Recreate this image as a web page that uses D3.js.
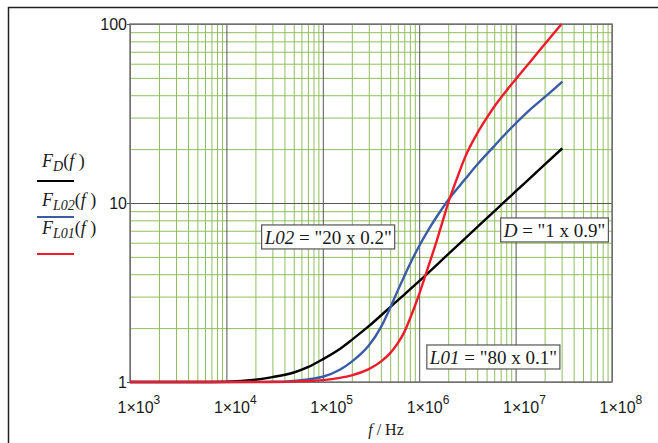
<!DOCTYPE html>
<html>
<head>
<meta charset="utf-8">
<title>Frequency factor F(f)</title>
<style>
  body { margin: 0; background: #fff; }
  svg { display: block; font-family: "Liberation Serif", "Times New Roman", serif; }
  .lbl { font-size: 16px; fill: #1a1a1a; }
  .note { font-size: 19px; fill: #1a1a1a; }
  .leg { font-size: 18px; fill: #1a1a1a; }
</style>
</head>
<body>
<div id="chart"></div>
<script src="https://d3js.org/d3.v7.min.js"></script>
<script>
// values (f in Hz, F dimensionless)
const freqD = [1e3, 5e3, 1e4, 2e4, 3e4, 5e4, 7e4, 1e5, 1.5e5, 2e5, 3e5, 5e5, 7e5, 1e6, 2e6, 3e6, 5e6, 1e7, 2e7, 3.05e7];
const valD  = [1, 1, 1.004, 1.03, 1.065, 1.13, 1.21, 1.34, 1.53, 1.72, 2.05, 2.62, 3.08, 3.66, 5.18, 6.35, 8.2, 11.6, 16.4, 20.2];

const freqL02 = [1e3, 1e4, 3e4, 5e4, 7e4, 1e5, 1.5e5, 2e5, 2.5e5, 3e5, 4e5, 5e5, 6e5, 7e5, 8e5, 1e6, 1.25e6, 1.5e6, 2e6, 3e6, 4e6, 6e6, 8e6, 1e7, 1.5e7, 2e7, 3.05e7];
const valL02  = [1, 1, 1.003, 1.015, 1.035, 1.07, 1.17, 1.3, 1.44, 1.6, 2.02, 2.6, 3.25, 3.9, 4.55, 5.75, 7.1, 8.3, 10.4, 13.6, 16.4, 20.8, 24.6, 27.8, 34.2, 39, 47.6];

const freqL01 = [1e3, 1e4, 3e4, 5e4, 7e4, 1e5, 1.5e5, 2e5, 3e5, 4e5, 5e5, 6e5, 7e5, 8e5, 9e5, 1e6, 1.25e6, 1.5e6, 1.75e6, 2e6, 2.5e6, 3e6, 4e6, 5e6, 6e6, 8e6, 1e7, 1.4e7, 2e7, 3e7];
const valL01  = [1, 1, 1, 1.005, 1.012, 1.025, 1.055, 1.09, 1.18, 1.3, 1.45, 1.65, 1.9, 2.25, 2.65, 3.1, 4.45, 6.0, 7.9, 10, 14, 18.1, 24.5, 29.8, 34.5, 42.3, 49, 61, 77, 100];

const xDecades = [1e3, 1e4, 1e5, 1e6, 1e7, 1e8];
const xExponents = ["3", "4", "5", "6", "7", "8"];
const yTicks = [1, 10, 100];

// notes drawn inside the plot, anchored at their top-left corner in data space
const notes = [
  { name: "L02", value: "\"20 x 0.2\"", f: 2.32e4, F: 7.54 },
  { name: "D",   value: "\"1 x 0.9\"",  f: 7.0e6,  F: 8.25 },
  { name: "L01", value: "\"80 x 0.1\"", f: 1.2e6,  F: 1.61 }
];

const series = [
  { sub: "D",   freq: freqD,   val: valD,   color: "#000000" },
  { sub: "L02", freq: freqL02, val: valL02, color: "#3a5ca6" },
  { sub: "L01", freq: freqL01, val: valL01, color: "#ee1c2a" }
];

const width = 658, height = 443;
const svg = d3.select("#chart").append("svg")
  .attr("width", width)
  .attr("height", height);

// outer frame (left and top edges visible)
svg.append("path")
  .attr("d", "M8.5,443V7.5H658")
  .attr("fill", "none")
  .attr("stroke", "#222")
  .attr("stroke-width", 1.5);

const x = d3.scaleLog().domain([1e3, 1e8]).range([130, 612]);
const y = d3.scaleLog().domain([1, 100]).range([382, 24]);
const plotH = y(1) - y(100);
const plotW = x(1e8) - x(1e3);

// minor grid values 2..9 of every decade
const xMinor = [];
for (let d = 1e3; d < 1e8; d *= 10) for (let k = 2; k <= 9; k++) xMinor.push(k * d);
const yMinor = [];
for (let d = 1; d < 100; d *= 10) for (let k = 2; k <= 9; k++) yMinor.push(k * d);

const green = "#8fbf5c";
svg.append("g")
  .attr("transform", `translate(0,${y(1)})`)
  .call(d3.axisBottom(x).tickValues(xMinor).tickSize(-plotH).tickFormat(""))
  .call(g => g.select(".domain").remove())
  .call(g => g.selectAll("line").attr("stroke", green));

svg.append("g")
  .attr("transform", `translate(${x(1e3)},0)`)
  .call(d3.axisLeft(y).tickValues(yMinor).tickSize(-plotW).tickFormat(""))
  .call(g => g.select(".domain").remove())
  .call(g => g.selectAll("line").attr("stroke", green));

// decade grid lines
svg.append("g")
  .attr("transform", `translate(0,${y(1)})`)
  .call(d3.axisBottom(x).tickValues(xDecades).tickSize(-plotH).tickFormat(""))
  .call(g => g.select(".domain").remove())
  .call(g => g.selectAll("line").attr("stroke", "#555"));

svg.append("g")
  .attr("transform", `translate(${x(1e3)},0)`)
  .call(d3.axisLeft(y).tickValues(yTicks).tickSize(-plotW).tickFormat(""))
  .call(g => g.select(".domain").remove())
  .call(g => g.selectAll("line").attr("stroke", "#555"));

// plot border
svg.append("rect")
  .attr("x", x(1e3)).attr("y", y(100))
  .attr("width", plotW).attr("height", plotH)
  .attr("fill", "none")
  .attr("stroke", "#7a7a7a")
  .attr("stroke-width", 1.5);

// y tick labels
svg.append("g")
  .attr("transform", `translate(${x(1e3)},0)`)
  .call(d3.axisLeft(y).tickValues(yTicks).tickSizeInner(3).tickSizeOuter(0).tickPadding(0).tickFormat(d3.format("d")))
  .call(g => g.select(".domain").remove())
  .call(g => g.selectAll("line").attr("stroke", "#555"))
  .call(g => g.selectAll("text").attr("class", "lbl").attr("font-family", null).attr("font-size", null).attr("fill", null));

// x tick labels 1x10^n
const xAxis = svg.append("g")
  .attr("transform", `translate(0,${y(1)})`)
  .call(d3.axisBottom(x).tickValues(xDecades).tickSize(0).tickFormat(""))
  .call(g => g.select(".domain").remove());

xAxis.selectAll(".tick").each(function(d, i) {
  const t = d3.select(this).append("text")
    .attr("class", "lbl")
    .attr("text-anchor", "start")
    .attr("x", -13)
    .attr("y", 31);
  t.append("tspan").text("1\u00d710");
  t.append("tspan").attr("dy", -9).attr("font-size", 12).text(xExponents[i]);
});

// axis title
const title = svg.append("text")
  .attr("class", "lbl")
  .attr("x", 386)
  .attr("y", 435)
  .attr("text-anchor", "middle");
title.append("tspan").attr("font-style", "italic").text("f");
title.append("tspan").text(" / Hz");

// curves
const line = d3.line()
  .x(d => x(d[0]))
  .y(d => y(d[1]))
  .curve(d3.curveMonotoneX);

series.forEach(s => {
  svg.append("path")
    .datum(d3.zip(s.freq, s.val))
    .attr("fill", "none")
    .attr("stroke", s.color)
    .attr("stroke-width", 2.4)
    .attr("stroke-linejoin", "round")
    .attr("d", line);
});

// notes
notes.forEach(n => {
  const g = svg.append("g")
    .attr("transform", `translate(${x(n.f)},${y(n.F)})`);
  const box = g.append("rect")
    .attr("fill", "#fff")
    .attr("stroke", "#555")
    .attr("stroke-width", 1.2);
  const t = g.append("text")
    .attr("class", "note")
    .attr("x", 3)
    .attr("y", 19);
  t.append("tspan").attr("font-style", "italic").text(n.name);
  t.append("tspan").text(" = " + n.value);
  const w = t.node().getComputedTextLength();
  box.attr("width", w + 6).attr("height", 24);
});

// legend
const legTop = [167, 206, 234];
const legLine = [181, 217, 254];
series.forEach((s, i) => {
  const t = svg.append("text")
    .attr("class", "leg")
    .attr("x", 42)
    .attr("y", legTop[i]);
  t.append("tspan").attr("font-style", "italic").text("F");
  t.append("tspan").attr("font-style", "italic").attr("font-size", 14).attr("dy", 4).text(s.sub);
  t.append("tspan").attr("dy", -4).text("(");
  t.append("tspan").attr("font-style", "italic").text("f");
  t.append("tspan").text(" )");
  svg.append("line")
    .attr("x1", 37).attr("x2", 74)
    .attr("y1", legLine[i]).attr("y2", legLine[i])
    .attr("stroke", s.color)
    .attr("stroke-width", 2);
});
</script>
</body>
</html>
